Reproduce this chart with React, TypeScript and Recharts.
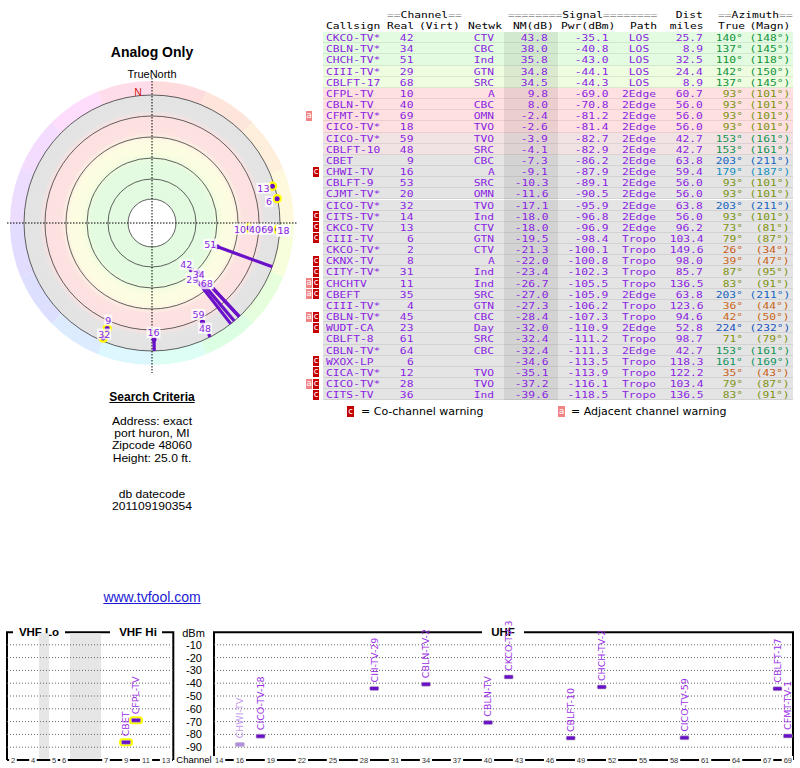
import React from 'react';
import { ScatterChart, Scatter, XAxis, YAxis, ReferenceLine, ReferenceArea } from 'recharts';

// ---------------- DATA ----------------
const callsigns = ['CKCO-TV*','CBLN-TV*','CHCH-TV*','CIII-TV*','CBLFT-17','CFPL-TV','CBLN-TV','CFMT-TV*','CICO-TV*','CICO-TV*','CBLFT-10','CBET','CHWI-TV','CBLFT-9','CJMT-TV*','CICO-TV*','CITS-TV*','CKCO-TV','CIII-TV','CKCO-TV*','CKNX-TV','CITY-TV*','CHCHTV','CBEFT','CIII-TV*','CBLN-TV*','WUDT-CA','CBLFT-8','CBLN-TV*','WXOX-LP','CICA-TV*','CICO-TV*','CITS-TV'];
const realChannels = [42,34,51,29,68,10,40,69,18,59,48,9,16,53,20,32,14,13,6,2,8,31,11,35,4,45,23,61,64,6,12,28,36];
const networks = ['CTV','CBC','Ind','GTN','SRC','A','CBC','OMN','TVO','TVO','SRC','CBC','A','SRC','OMN','TVO','Ind','CTV','GTN','CTV','A','Ind','Ind','SRC','GTN','CBC','Day','SRC','CBC','','TVO','TVO','Ind'];
const noiseMargins = [43.8,38.0,35.8,34.8,34.5,9.8,8.0,-2.4,-2.6,-3.9,-4.1,-7.3,-9.1,-10.3,-11.6,-17.1,-18.0,-18.0,-19.5,-21.3,-22.0,-23.4,-26.7,-27.0,-27.3,-28.4,-32.0,-32.4,-32.4,-34.6,-35.1,-37.2,-39.6];
const powers = [-35.1,-40.8,-43.0,-44.1,-44.3,-69.0,-70.8,-81.2,-81.4,-82.7,-82.9,-86.2,-87.9,-89.1,-90.5,-95.9,-96.8,-96.9,-98.4,-100.1,-100.8,-102.3,-105.5,-105.9,-106.2,-107.3,-110.9,-111.2,-111.3,-113.5,-113.9,-116.1,-118.5];
const paths = ['LOS','LOS','LOS','LOS','LOS','2Edge','2Edge','2Edge','2Edge','2Edge','2Edge','2Edge','2Edge','2Edge','2Edge','2Edge','2Edge','2Edge','Tropo','Tropo','Tropo','Tropo','Tropo','2Edge','Tropo','Tropo','2Edge','Tropo','2Edge','Tropo','Tropo','Tropo','Tropo'];
const distances = [25.7,8.9,32.5,24.4,8.9,60.7,56.0,56.0,56.0,42.7,42.7,63.8,59.4,56.0,56.0,63.8,56.0,96.2,103.4,149.6,98.0,85.7,136.5,63.8,123.6,94.6,52.8,98.7,42.7,118.3,122.2,103.4,136.5];
const azTrue = [140,137,110,142,137,93,93,93,93,153,153,203,179,93,93,203,93,73,79,26,39,87,83,203,36,42,224,71,153,161,35,79,83];
const azMagn = [148,145,118,150,145,101,101,101,101,161,161,211,187,101,101,211,101,81,87,34,47,95,91,211,44,50,232,79,161,169,43,87,91];
const warnings = ['','','','','','','','a','','','','','c','','','','c','c','c','','c','c','ac','ac','','ac','c','','','c','c','ac','c'];

// polar spokes (start of each spoke, in NM dB, read from the plot)
const spokeChannels = [42, 34, 68, 29, 51, 48, 16];
const spokeStartNM = [28.1, 17.1, 17.1, 32.4, 35.5, -16.8, -7.6];

// spectrum panel
const specChannels = [9, 10, 16, 18, 29, 34, 40, 42, 48, 51, 59, 68, 69];
const specLabels = ['CBET','CFPL-TV','CHWI-TV','CICO-TV-18','CIII-TV-29','CBLN-TV-2','CBLN-TV','CKCO-TV-3','CBLFT-10','CHCH-TV-2','CICO-TV-59','CBLFT-17','CFMT-TV-1'];
const vhfTickChannels = [2, 4, 5, 6, 7, 9, 11, 13];
const uhfTickChannels = [14,16,19,22,25,28,31,34,37,40,43,46,49,52,55,58,61,64,67,69];
const dbmTicks = [-10,-20,-30,-40,-50,-60,-70,-80,-90];

const searchLines = ['Address: exact', 'port huron, MI', 'Zipcode 48060', 'Height: 25.0 ft.'];
const dbLines = ['db datecode', '201109190354'];

// ---------------- HELPERS ----------------
const PURPLE = '#8a1ee2';
const MONO = '"DejaVu Sans Mono", monospace';
const SANS = '"Liberation Sans", Arial, sans-serif';
const DJ = '"DejaVu Sans", sans-serif';
const MONO_SIZE = 9.5;
const MONO_STRETCH = 1.187;

function interp(stops: number[][], v: number) {
  for (let i = 0; i < stops.length - 1; i++) {
    const [a0, h0] = stops[i];
    const [a1, h1] = stops[i + 1];
    if (v >= a0 && v <= a1) return h0 + ((h1 - h0) * (v - a0)) / (a1 - a0);
  }
  return stops[stops.length - 1][1];
}
const textHueStops = [[0,15],[30,24],[45,28],[65,66],[95,72],[108,135],[145,142],[165,162],[180,200],[205,213],[230,220],[360,360]];
function azColor(az: number) {
  const h = interp(textHueStops, az);
  const l = h < 45 ? 44 : h < 175 ? 32 : 42;
  return `hsl(${h.toFixed(0)},80%,${l}%)`;
}
const ringHueStops = [[0,350],[45,385],[90,420],[135,475],[180,540],[225,585],[270,620],[315,650],[360,710]];
function ringColor(az: number) {
  const h = interp(ringHueStops, az) % 360;
  return `hsl(${h.toFixed(0)},95%,93%)`;
}
function rowBg(nm: number) {
  if (nm >= 35.5) return '#e3fbe0';
  if (nm >= 30) return '#eefce0';
  if (nm >= -3) return '#fee0e0';
  if (nm >= -5) return '#f1e3e3';
  return '#e4e4e4';
}

const R_OUT = 128;
function ringRadius(nm: number) { return Math.min(R_OUT, 107 - 1.05 * nm); }
function polarXY(r: number, az: number) {
  const a = (az * Math.PI) / 180;
  return { x: r * Math.sin(a), y: r * Math.cos(a) };
}
function vhfPos(ch: number) {
  if (ch <= 4) return ch - 1.4;
  if (ch <= 6) return ch - 0.3;
  return ch + 2.9;
}

const rows = callsigns.map((c, i) => ({
  call: c, ch: realChannels[i], net: networks[i], nm: noiseMargins[i], pwr: powers[i],
  path: paths[i], dist: distances[i], az: azTrue[i], azm: azMagn[i], warn: warnings[i],
}));

const polarPts = rows.filter(r => r.nm >= -20).map(r => ({
  ...polarXY(ringRadius(r.nm), r.az), ch: r.ch, yellow: r.ch <= 13 || r.nm <= -15,
}));
const polarLabelPts = [...polarPts].reverse();
const spokes = spokeChannels.map((ch, i) => {
  const az = azTrue[realChannels.indexOf(ch)];
  return [polarXY(ringRadius(spokeStartNM[i]), az), polarXY(R_OUT, az)];
});

const specPts = specChannels.map((ch, i) => {
  const idx = realChannels.indexOf(ch);
  return { ch, label: specLabels[i], y: powers[idx], faded: noiseMargins[idx] < -8.5, vhf: ch <= 13 };
});
const vhfPts = specPts.filter(p => p.vhf).map(p => ({ ...p, x: vhfPos(p.ch) }));
const uhfPts = specPts.filter(p => !p.vhf).map(p => ({ ...p, x: p.ch }));

const polarLabelOffsets: Record<number, number[]> = {
  42: [-5, -5], 34: [1, 2], 29: [-3, 0.5], 68: [6.5, 9], 51: [-7, -2.5], 10: [-8.5, 1], 40: [4.5, 1],
  69: [6, 0.5], 18: [22, 1.5], 53: [13.7, 1.5], 20: [12.3, 1.5], 14: [5.6, 1.5], 59: [-4, -7.5],
  48: [2.5, 6], 9: [1, -8.5], 32: [1, -4], 16: [-0.5, -7], 13: [-9, 2], 6: [-8, 3],
};

// ---------------- SHAPES ----------------
function EmptyShape() { return <g />; }

function PolarBackground(props: any) {
  const { cx, cy } = props;
  const p = (r: number, a: number) => {
    const t = (a * Math.PI) / 180;
    return `${(cx + r * Math.sin(t)).toFixed(2)},${(cy - r * Math.cos(t)).toFixed(2)}`;
  };
  const wedges = [];
  for (let i = 0; i < 16; i++) {
    const a0 = i * 22.5, a1 = a0 + 22.5, r1 = 126, r2 = 142;
    wedges.push(
      <path key={i} d={`M${p(r2, a0)} A${r2},${r2} 0 0 1 ${p(r2, a1)} L${p(r1, a1)} A${r1},${r1} 0 0 0 ${p(r1, a0)} Z`}
        fill={ringColor(a0 + 11.25)} stroke="none" />
    );
  }
  return (
    <g>
      <defs>
        <radialGradient id="polarBands" gradientUnits="userSpaceOnUse" cx={cx} cy={cy} r={R_OUT}>
          <stop offset="0" stopColor="#e2fbe0" />
          <stop offset="0.47" stopColor="#e3fbe0" />
          <stop offset="0.55" stopColor="#fbfde0" />
          <stop offset="0.64" stopColor="#fdfce2" />
          <stop offset="0.71" stopColor="#fde2e2" />
          <stop offset="0.83" stopColor="#fde1e1" />
          <stop offset="0.88" stopColor="#e4e4e4" />
          <stop offset="1" stopColor="#e3e3e3" />
        </radialGradient>
      </defs>
      {wedges}
      <circle cx={cx} cy={cy} r={R_OUT} fill="url(#polarBands)" />
      {[44, 65, 86, 107, 128].map(r => (
        <circle key={r} cx={cx} cy={cy} r={r} fill="none" stroke="#3a3a3a" strokeWidth={0.8} />
      ))}
      <circle cx={cx} cy={cy} r={24} fill="#fff" stroke="#3a3a3a" strokeWidth={0.8} />
      <line x1={cx - 145} y1={cy} x2={cx + 145} y2={cy} stroke="#000" strokeWidth={1} strokeDasharray="1.5 1.5" />
      <line x1={cx} y1={cy - 145} x2={cx} y2={cy + 150} stroke="#000" strokeWidth={1} strokeDasharray="1.5 1.5" />
      <text x={cx - 14} y={cy - 131} textAnchor="middle" dominantBaseline="central" fontSize={10.5} fontFamily={SANS} fill="#d01818">N</text>
    </g>
  );
}

function PolarDot(props: any) {
  const { cx, cy, payload } = props;
  return (
    <g>
      {payload.yellow && <circle cx={cx} cy={cy} r={4.8} fill="#ffff00" />}
      <circle cx={cx} cy={cy} r={2.5} fill="#6a10c8" />
    </g>
  );
}

function PolarLabel(props: any) {
  const { cx, cy, payload } = props;
  const off = polarLabelOffsets[payload.ch] || [-8, 0];
  const tx = cx + off[0], ty = cy + off[1];
  const txt = String(payload.ch);
  const w = txt.length * 6 + 2;
  return (
    <g>
      <rect x={tx - w / 2} y={ty - 5.5} width={w} height={11} fill="#fff" fillOpacity={0.78} />
      <text x={tx} y={ty} textAnchor="middle" dominantBaseline="central" fontSize={9.5} fontFamily={DJ} fill={PURPLE}>{txt}</text>
    </g>
  );
}

function SpecMarker(props: any) {
  const { cx, cy, payload } = props;
  const col = payload.faded ? '#c49ceb' : '#9a30e6';
  const bar = payload.faded ? '#b48ee2' : '#6a10c8';
  const ly = cy - 6;
  return (
    <g>
      {payload.vhf && <rect x={cx - 7} y={cy - 4} width={14} height={8} rx={3.5} fill="#ffff00" />}
      <rect x={cx - 4.5} y={cy - 2} width={9} height={4} rx={1} fill={bar} stroke="#bbbbbb" strokeWidth={0.6} />
      <text x={cx} y={ly} transform={`rotate(-90 ${cx} ${ly})`} fontSize={9.5} fontFamily={DJ} fill={col} dominantBaseline="central">
        {payload.label}
      </text>
    </g>
  );
}

function makeChannelTick(labelOf: (v: number) => string) {
  return (props: any) => {
    const { x, y, payload } = props;
    const t = labelOf(payload.value);
    const w = t.length * 4.6 + 3;
    return (
      <g>
        <rect x={x - w / 2} y={y - 4} width={w} height={8} fill="#fff" />
        <text x={x} y={y} textAnchor="middle" dominantBaseline="central" fontSize={7.5} fontFamily={SANS} fill="#333">{t}</text>
      </g>
    );
  };
}
const VhfTick = makeChannelTick(v => {
  const i = vhfTickChannels.map(vhfPos).findIndex(p => Math.abs(p - v) < 1e-6);
  return i >= 0 ? String(vhfTickChannels[i]) : '';
});
const UhfTick = makeChannelTick(v => String(v));
function DbmTick(props: any) {
  const { y, payload } = props;
  return (
    <text x={22} y={y} textAnchor="end" dominantBaseline="central" fontSize={11} fontFamily={SANS} fill="#000">{payload.value}</text>
  );
}

// ---------------- TABLE ----------------
const ROW0 = 32.1;
const ROWH = 11.16;
const rowTop = (i: number) => ROW0 + i * ROWH;

function monoStyle(top: number, x: number, align: 'left' | 'right' | 'center', color: string): React.CSSProperties {
  const s: React.CSSProperties = {
    position: 'absolute', top, height: ROWH, lineHeight: `${ROWH}px`, fontFamily: MONO, fontSize: MONO_SIZE,
    color, whiteSpace: 'pre', transform: `scaleX(${MONO_STRETCH})`,
  };
  if (align === 'left') { s.left = x; s.transformOrigin = 'left center'; }
  else if (align === 'right') { s.right = 800 - x; s.transformOrigin = 'right center'; }
  else { s.left = x - 40; s.width = 80; s.textAlign = 'center'; s.transformOrigin = 'center center'; }
  return s;
}

function Cell({ text, x, top, align, color }: { text: string; x: number; top: number; align: 'left' | 'right' | 'center'; color: string }) {
  return <div style={monoStyle(top, x, align, color)}>{text}</div>;
}

function Header({ text, x, top, align }: { text: string; x: number; top: number; align: 'left' | 'right' }) {
  const parts = text.split(/(=+)/).filter(s => s.length > 0);
  return (
    <div style={monoStyle(top, x, align, '#000')}>
      {parts.map((s, i) => <span key={i} style={{ color: s[0] === '=' ? '#8c8c8c' : '#000' }}>{s}</span>)}
    </div>
  );
}

function Badge({ kind, left, top, w = 6, h = 10 }: { kind: string; left: number; top: number; w?: number; h?: number }) {
  return (
    <div style={{
      position: 'absolute', left, top, width: w, height: h, background: kind === 'a' ? '#f08484' : '#c40000',
      color: '#fff', fontFamily: DJ, fontSize: 8.5, lineHeight: `${h - 1}px`, textAlign: 'center', overflow: 'hidden',
    }}>{kind}</div>
  );
}

function Table() {
  const h1 = 8.7, h2 = 20.1;
  const out: React.ReactNode[] = [];
  rows.forEach((r, i) => {
    out.push(<div key={`bg${i}`} style={{ position: 'absolute', left: 323.3, top: rowTop(i), width: 469.4, height: ROWH - 1, background: rowBg(r.nm), borderBottom: '1px solid rgba(0,0,0,0.08)' }} />);
  });
  out.push(<div key="nmcol" style={{ position: 'absolute', left: 504, top: ROW0, width: 53.7, height: rows.length * ROWH, background: 'rgba(0,0,0,0.075)' }} />);
  rows.forEach((r, i) => {
    const t = rowTop(i);
    const col = azColor(r.az);
    out.push(
      <React.Fragment key={`r${i}`}>
        <Cell text={r.call} x={326} top={t} align="left" color={PURPLE} />
        <Cell text={String(r.ch)} x={413.3} top={t} align="right" color={PURPLE} />
        <Cell text={r.net} x={494.3} top={t} align="right" color={PURPLE} />
        <Cell text={r.nm.toFixed(1)} x={548.3} top={t} align="right" color={PURPLE} />
        <Cell text={r.pwr.toFixed(1)} x={608.3} top={t} align="right" color={PURPLE} />
        <Cell text={r.path} x={639} top={t} align="center" color={PURPLE} />
        <Cell text={r.dist.toFixed(1)} x={703.3} top={t} align="right" color={PURPLE} />
        <Cell text={`${r.az}°`} x={743.3} top={t} align="right" color={col} />
        <Cell text={`(${r.azm}°)`} x={790} top={t} align="right" color={col} />
        {r.warn.includes('a') && <Badge kind="a" left={306} top={t + 0.5} />}
        {r.warn.includes('c') && <Badge kind="c" left={313} top={t + 0.5} />}
      </React.Fragment>
    );
  });
  return (
    <>
      <Header text="==Channel==" x={387.3} top={h1} align="left" />
      <Header text="========Signal========" x={508} top={h1} align="left" />
      <Header text="Dist" x={703.3} top={h1} align="right" />
      <Header text="==Azimuth==" x={717.7} top={h1} align="left" />
      <Header text="Callsign" x={326} top={h2} align="left" />
      <Header text="Real" x={387.3} top={h2} align="left" />
      <Header text="(Virt)" x={418.7} top={h2} align="left" />
      <Header text="Netwk" x={468.3} top={h2} align="left" />
      <Header text="NM(dB)" x={513.3} top={h2} align="left" />
      <Header text="Pwr(dBm)" x={561} top={h2} align="left" />
      <Header text="Path" x={630} top={h2} align="left" />
      <Header text="miles" x={703.3} top={h2} align="right" />
      <Header text="True" x={717.7} top={h2} align="left" />
      <Header text="(Magn)" x={790} top={h2} align="right" />
      {out}
      <Badge kind="c" left={347} top={405.5} w={7} h={11} />
      <div style={{ position: 'absolute', left: 361, top: 404.5, lineHeight: '13px', fontFamily: DJ, fontSize: 11, color: '#000', whiteSpace: 'pre' }}>= Co-channel warning</div>
      <Badge kind="a" left={558} top={405.5} w={7} h={11} />
      <div style={{ position: 'absolute', left: 571, top: 404.5, lineHeight: '13px', fontFamily: DJ, fontSize: 11, color: '#000', whiteSpace: 'pre' }}>= Adjacent channel warning</div>
    </>
  );
}

// ---------------- APP ----------------
function StackedLines({ lines, top, pitch }: { lines: string[]; top: number; pitch: number }) {
  return (
    <>
      {lines.map((l, i) => (
        <div key={i} style={{
          position: 'absolute', left: 52, width: 200, top: top + i * pitch, height: pitch, lineHeight: `${pitch}px`,
          textAlign: 'center', fontFamily: SANS, fontSize: 11, color: '#000', whiteSpace: 'pre',
          transform: 'scaleX(1.1)', transformOrigin: '100px center',
        }}>{l}</div>
      ))}
    </>
  );
}

export default function App() {
  const centered = (top: number, content: React.ReactNode, extra: React.CSSProperties = {}) => (
    <div style={{ position: 'absolute', left: 52, width: 200, top, textAlign: 'center', fontFamily: SANS, ...extra }}>{content}</div>
  );
  return (
    <div style={{ position: 'absolute', left: 0, top: 0, width: 800, height: 768, background: '#fff', overflow: 'hidden', fontFamily: SANS }}>
      {centered(42.5, 'Analog Only', { fontSize: 14, fontWeight: 'bold', lineHeight: '18px', color: '#000' })}
      {centered(67.5, 'TrueNorth', { fontSize: 11, lineHeight: '13px', color: '#000' })}

      <div style={{ position: 'absolute', left: 2, top: 73 }}>
        <ScatterChart width={300} height={300} margin={{ top: 0, right: 0, bottom: 0, left: 0 }}>
          <XAxis type="number" dataKey="x" domain={[-150, 150]} hide />
          <YAxis type="number" dataKey="y" domain={[-150, 150]} hide />
          <Scatter data={[{ x: 0, y: 0 }]} shape={PolarBackground} isAnimationActive={false} />
          {spokes.map((s, i) => (
            <Scatter key={`sp${i}`} data={s} shape={EmptyShape} line={{ stroke: '#6a10c8', strokeWidth: 3.2 }} isAnimationActive={false} />
          ))}
          <Scatter data={polarPts} shape={PolarDot} isAnimationActive={false} />
          <Scatter data={polarLabelPts} shape={PolarLabel} isAnimationActive={false} />
        </ScatterChart>
      </div>

      {centered(389, <span style={{ textDecoration: 'underline' }}>Search Criteria</span>, { fontSize: 12, fontWeight: 'bold', lineHeight: '16px', color: '#000' })}
      <StackedLines lines={searchLines} top={414.9} pitch={12.2} />
      <StackedLines lines={dbLines} top={488.2} pitch={12} />
      {centered(589, <span style={{ textDecoration: 'underline' }}>www.tvfool.com</span>, { fontSize: 14, lineHeight: '16px', color: '#1a1ad4' })}

      <Table />

      {/* spectrum frames */}
      <svg width={800} height={768} style={{ position: 'absolute', left: 0, top: 0 }}>
        <g stroke="#000" strokeWidth={2} fill="none">
          <path d="M7,760 V632.3 H13" />
          <path d="M65,632.3 H110" />
          <path d="M162,632.3 H173.3 V760" />
          <path d="M214,760 V632.3 H482" />
          <path d="M524,632.3 H793 V760" />
        </g>
        <g fontFamily={SANS} fontWeight="bold" fontSize={11.5} fill="#000" textAnchor="middle" dominantBaseline="central">
          <text x={39} y={632.3}>VHF Lo</text>
          <text x={138} y={632.3}>VHF Hi</text>
          <text x={503} y={632.3}>UHF</text>
        </g>
        <text x={193.5} y={632.5} fontFamily={SANS} fontSize={11} textAnchor="middle" dominantBaseline="central">dBm</text>
        <text x={194} y={759} fontFamily={SANS} fontSize={9.5} textAnchor="middle" dominantBaseline="central">Channel</text>
      </svg>

      <div style={{ position: 'absolute', left: 7, top: 600 }}>
        <ScatterChart width={166} height={168} margin={{ top: 32, right: 0, bottom: 0, left: 0 }}>
          <XAxis type="number" dataKey="x" domain={[0, 16.6]} ticks={vhfTickChannels.map(vhfPos)} interval={0} height={8}
            axisLine={{ stroke: '#000', strokeWidth: 2 }} tickLine={false} tickSize={0} tickMargin={0} tick={VhfTick} />
          <YAxis type="number" dataKey="y" domain={[-100, 0]} hide />
          <ReferenceArea x1={3.2} x2={4.2} y1={-99} y2={-1} fill="#e6e6e6" fillOpacity={1} stroke="none" />
          <ReferenceArea x1={6.3} x2={9.4} y1={-99} y2={-1} fill="#e6e6e6" fillOpacity={1} stroke="none" />
          {dbmTicks.map(v => <ReferenceLine key={v} y={v} stroke="#666" strokeDasharray="1 2" />)}
          <Scatter data={vhfPts} shape={SpecMarker} isAnimationActive={false} />
        </ScatterChart>
      </div>

      <div style={{ position: 'absolute', left: 180, top: 600 }}>
        <ScatterChart width={613} height={168} margin={{ top: 32, right: 0, bottom: 0, left: 0 }}>
          <XAxis type="number" dataKey="x" domain={[13.5, 69.5]} ticks={uhfTickChannels} interval={0} height={8}
            axisLine={{ stroke: '#000', strokeWidth: 2 }} tickLine={false} tickSize={0} tickMargin={0} tick={UhfTick} />
          <YAxis type="number" dataKey="y" domain={[-100, 0]} width={34} ticks={dbmTicks} interval={0}
            axisLine={false} tickLine={false} tick={DbmTick} />
          {dbmTicks.map(v => <ReferenceLine key={v} y={v} stroke="#666" strokeDasharray="1 2" />)}
          <Scatter data={uhfPts} shape={SpecMarker} isAnimationActive={false} />
        </ScatterChart>
      </div>
    </div>
  );
}
